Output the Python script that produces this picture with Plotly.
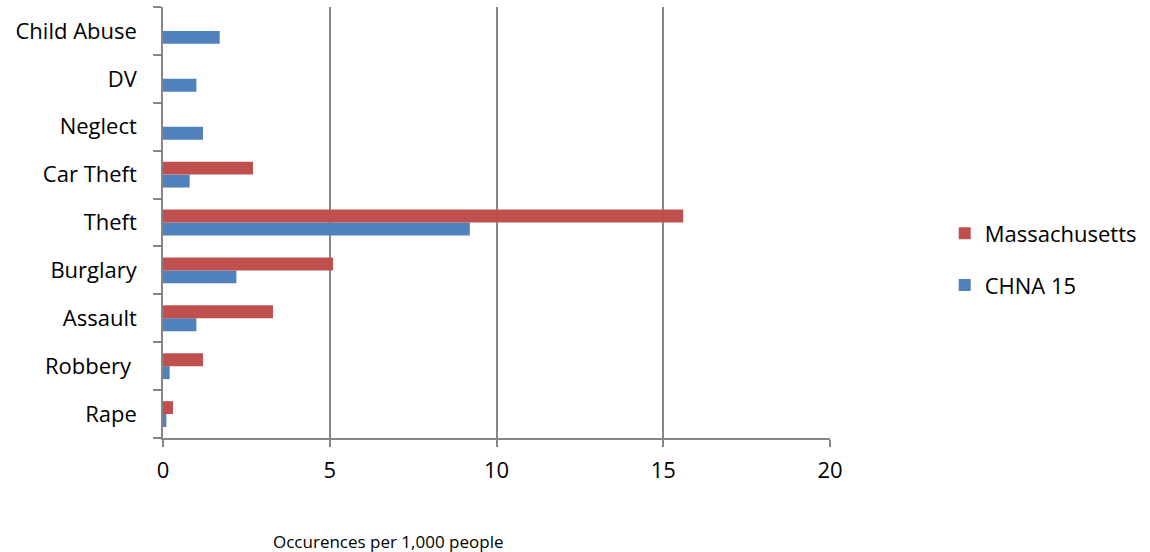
import plotly.graph_objects as go

categories = ["Rape", "Robbery ", "Assault", "Burglary", "Theft", "Car Theft", "Neglect", "DV", "Child Abuse"]
chna15 = [0.1, 0.2, 1.0, 2.2, 9.2, 0.8, 1.2, 1.0, 1.7]
massachusetts = [0.3, 1.2, 3.3, 5.1, 15.6, 2.7, None, None, None]
x_ticks = [0, 5, 10, 15, 20]

FONT = "Open Sans, Carlito, Calibri, sans-serif"
GRID = "#868686"

fig = go.Figure()
fig.add_trace(go.Bar(y=categories, x=chna15, orientation="h", name="CHNA 15",
                     marker=dict(color="#4F81BD", line=dict(width=0)),
                     legendgroup="a", legendrank=2))
fig.add_trace(go.Bar(y=categories, x=massachusetts, orientation="h", name="Massachusetts",
                     marker=dict(color="#C0504D", line=dict(width=0)),
                     legendgroup="b", legendrank=1))

fig.update_layout(
    width=1150, height=552,
    margin=dict(l=163, r=320, t=7, b=114),
    paper_bgcolor="white", plot_bgcolor="white",
    barmode="group", bargap=0.46, bargroupgap=0,
    font=dict(family=FONT, size=22, color="#000000"),
    showlegend=True,
    legend=dict(x=1.172, y=0.414, xanchor="left", yanchor="middle",
                traceorder="grouped", tracegroupgap=20,
                font=dict(size=22, family=FONT), bgcolor="rgba(0,0,0,0)"),
    xaxis=dict(range=[0, 20], tickvals=x_ticks, showgrid=True, gridcolor=GRID, gridwidth=1.5,
               showline=True, linecolor=GRID, linewidth=1.5, ticks="outside", ticklen=7,
               tickcolor=GRID, tickwidth=1.5, zeroline=False, fixedrange=True,
               ticklabelstandoff=5,
               tickfont=dict(size=22, family=FONT)),
    yaxis=dict(showgrid=False, showline=True, linecolor=GRID, linewidth=1.5,
               ticks="outside", ticklen=8, tickcolor=GRID, tickwidth=1.5,
               tickson="boundaries", ticklabelstandoff=20,
               tickfont=dict(size=22, family=FONT)),
)

fig.add_annotation(text="Occurences per 1,000 people", xref="paper", yref="paper",
                   x=(388 - 163) / 667, y=-(541 - 438) / 431, xanchor="center", yanchor="middle",
                   showarrow=False, font=dict(size=17, family=FONT))

fig.write_html("out.html")
